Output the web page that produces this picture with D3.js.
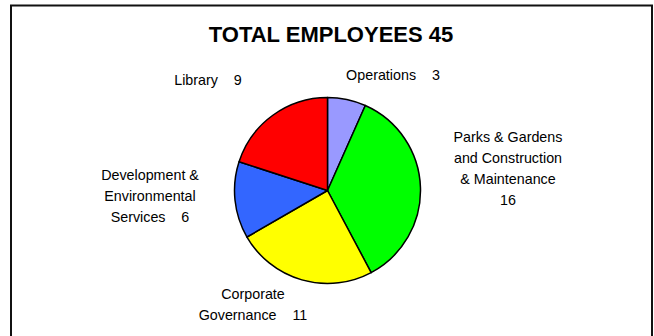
<!DOCTYPE html>
<html>
<head>
<meta charset="utf-8">
<script src="https://cdn.jsdelivr.net/npm/d3@7"></script>
<style>
  body { margin: 0; background: #fff; }
  text { font-family: "Liberation Sans", Arial, sans-serif; fill: #000; }
</style>
</head>
<body>
<div id="chart"></div>
<script>
// Data
const departments = ['Operations', 'Parks & Gardens and Construction & Maintenance', 'Corporate Governance', 'Development & Environmental Services', 'Library'];
const employees = [3, 16, 11, 6, 9];
const sliceColours = ['#9999ff', '#00ff00', '#ffff00', '#3366ff', '#ff0000'];
// How each label is broken into lines (last line carries the value)
const labelLines = [
    ['Operations'],
    ['Parks & Gardens', 'and Construction', '& Maintenance', ''],
    ['Corporate', 'Governance'],
    ['Development &', 'Environmental', 'Services'],
    ['Library']
];

const width = 654, height = 336;
const cx = 327.5, cy = 190.5, radius = 93;

const svg = d3.select('#chart')
    .append('svg')
    .attr('width', width)
    .attr('height', height);

// Outer frame (bottom edge runs off the picture)
svg.append('rect')
    .attr('x', 11)
    .attr('y', 5.5)
    .attr('width', 641)
    .attr('height', 340)
    .attr('fill', '#fff')
    .attr('stroke', '#111')
    .attr('stroke-width', 2);

const total = d3.sum(employees);

svg.append('text')
    .attr('x', 331)
    .attr('y', 42)
    .attr('text-anchor', 'middle')
    .style('font-size', '22px')
    .style('font-weight', 'bold')
    .text(`TOTAL EMPLOYEES ${total}`);

const data = departments.map((d, i) => ({ name: d, value: employees[i], colour: sliceColours[i], lines: labelLines[i] }));

const pie = d3.pie().sort(null).value(d => d.value);
const arc = d3.arc().innerRadius(0).outerRadius(radius);

const g = svg.append('g').attr('transform', `translate(${cx},${cy})`);

g.selectAll('path')
    .data(pie(data))
    .enter()
    .append('path')
    .attr('d', arc)
    .attr('fill', d => d.data.colour)
    .attr('stroke', '#000')
    .attr('stroke-width', 1.5)
    .attr('stroke-linejoin', 'round');

const labelPos = [
    { x: 393, y: 80 },
    { x: 508, y: 142 },
    { x: 253, y: 299 },
    { x: 150, y: 180 },
    { x: 208, y: 85 }
];
const lineGap = 21;

data.forEach((d, i) => {
    const t = svg.append('text')
        .attr('text-anchor', 'middle')
        .style('font-size', '14.3px');
    d.lines.forEach((line, j) => {
        const last = j === d.lines.length - 1;
        const tspan = t.append('tspan')
            .attr('x', labelPos[i].x)
            .attr('y', labelPos[i].y + j * lineGap)
            .text(line);
        if (last) {
            tspan.attr('xml:space', 'preserve')
                .text(line === '' ? String(d.value) : `${line}    ${d.value}`);
        }
    });
});
</script>
</body>
</html>
